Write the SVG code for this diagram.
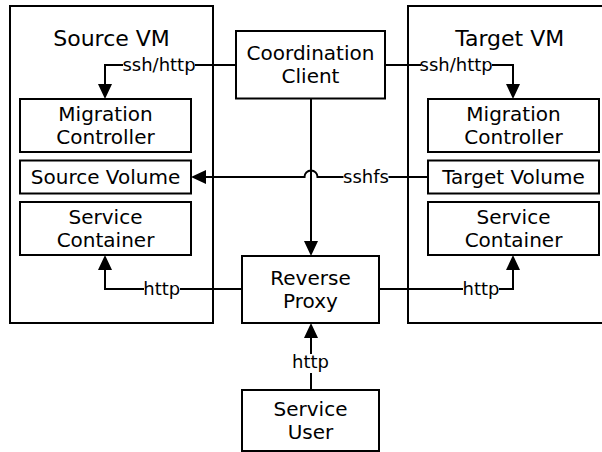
<svg xmlns="http://www.w3.org/2000/svg" width="602" height="452" viewBox="0 0 602 452">
<defs>
<marker id="arr" markerUnits="userSpaceOnUse" markerWidth="16" markerHeight="14" refX="0" refY="7" orient="auto" overflow="visible">
<path d="M0,0 L15,7 L0,14 z" fill="#000"/>
</marker>
<style>
.box{fill:#fff;stroke:#000;stroke-width:2}
.vm{fill:none;stroke:#000;stroke-width:2}
.t{font-family:"DejaVu Sans",Verdana,sans-serif;font-size:20px;text-anchor:middle;fill:#000}
.title{font-family:"DejaVu Sans",Verdana,sans-serif;font-size:22px;text-anchor:middle;fill:#000}
.lbl{font-family:"DejaVu Sans",Verdana,sans-serif;font-size:18px;text-anchor:middle;fill:#000}
.e{fill:none;stroke:#000;stroke-width:2;marker-end:url(#arr)}
.bg{fill:#fff}
</style>
</defs>
<rect width="602" height="452" fill="#fff"/>
<g id="source-vm">
<rect class="vm" x="10" y="6" width="203" height="317"/>
<text class="title" x="111.5" y="45.5">Source VM</text>
</g>
<g id="target-vm">
<rect class="vm" x="408" y="6" width="210" height="317"/>
<text class="title" x="509.7" y="45.5">Target VM</text>
</g>
<g id="connectors">
<path class="e" d="M236,65 H105 V84"/>
<path class="e" d="M385,65 H513 V84"/>
<path class="e" d="M311,98 V241"/>
<path class="e" d="M428,177 H317.5 A6.5,6.5 0 0 0 304.5,177 H206"/>
<path class="e" d="M242,289 H105 V270"/>
<path class="e" d="M379,289 H513 V270"/>
<path class="e" d="M311,390 V338"/>
<rect class="bg" x="123" y="56" width="72" height="19"/>
<text class="lbl" x="159" y="71.2">ssh/http</text>
<rect class="bg" x="421" y="56" width="71" height="19"/>
<text class="lbl" x="456.2" y="71.2">ssh/http</text>
<rect class="bg" x="343.5" y="168" width="45" height="19"/>
<text class="lbl" x="366" y="183.2">sshfs</text>
<rect class="bg" x="144" y="280" width="36" height="19"/>
<text class="lbl" x="161.8" y="295.2">http</text>
<rect class="bg" x="463" y="280" width="36" height="19"/>
<text class="lbl" x="481" y="295.2">http</text>
<rect class="bg" x="292" y="354" width="38" height="19"/>
<text class="lbl" x="310.5" y="368">http</text>
</g>
<g id="coordination-client">
<rect class="box" x="236" y="31" width="149" height="67.5"/>
<text class="t" x="310.5" y="60">Coordination</text>
<text class="t" x="310.5" y="83.3">Client</text>
</g>
<g id="source-migration-controller">
<rect class="box" x="20" y="99" width="171" height="53"/>
<text class="t" x="105.5" y="120.8">Migration</text>
<text class="t" x="105.5" y="144.1">Controller</text>
</g>
<g id="source-volume">
<rect class="box" x="20" y="160.5" width="171" height="33"/>
<text class="t" x="105.5" y="183.9">Source Volume</text>
</g>
<g id="source-service-container">
<rect class="box" x="20" y="202" width="171" height="53"/>
<text class="t" x="105.5" y="223.8">Service</text>
<text class="t" x="105.5" y="247.1">Container</text>
</g>
<g id="target-migration-controller">
<rect class="box" x="428" y="99" width="171" height="53"/>
<text class="t" x="513.5" y="120.8">Migration</text>
<text class="t" x="513.5" y="144.1">Controller</text>
</g>
<g id="target-volume">
<rect class="box" x="428" y="160.5" width="171" height="33"/>
<text class="t" x="513.5" y="183.9">Target Volume</text>
</g>
<g id="target-service-container">
<rect class="box" x="428" y="202" width="171" height="53"/>
<text class="t" x="513.5" y="223.8">Service</text>
<text class="t" x="513.5" y="247.1">Container</text>
</g>
<g id="reverse-proxy">
<rect class="box" x="242" y="256" width="137" height="67"/>
<text class="t" x="310.5" y="284.8">Reverse</text>
<text class="t" x="310.5" y="308.1">Proxy</text>
</g>
<g id="service-user">
<rect class="box" x="242" y="390" width="137" height="61"/>
<text class="t" x="310.5" y="415.8">Service</text>
<text class="t" x="310.5" y="439.1">User</text>
</g>
</svg>
